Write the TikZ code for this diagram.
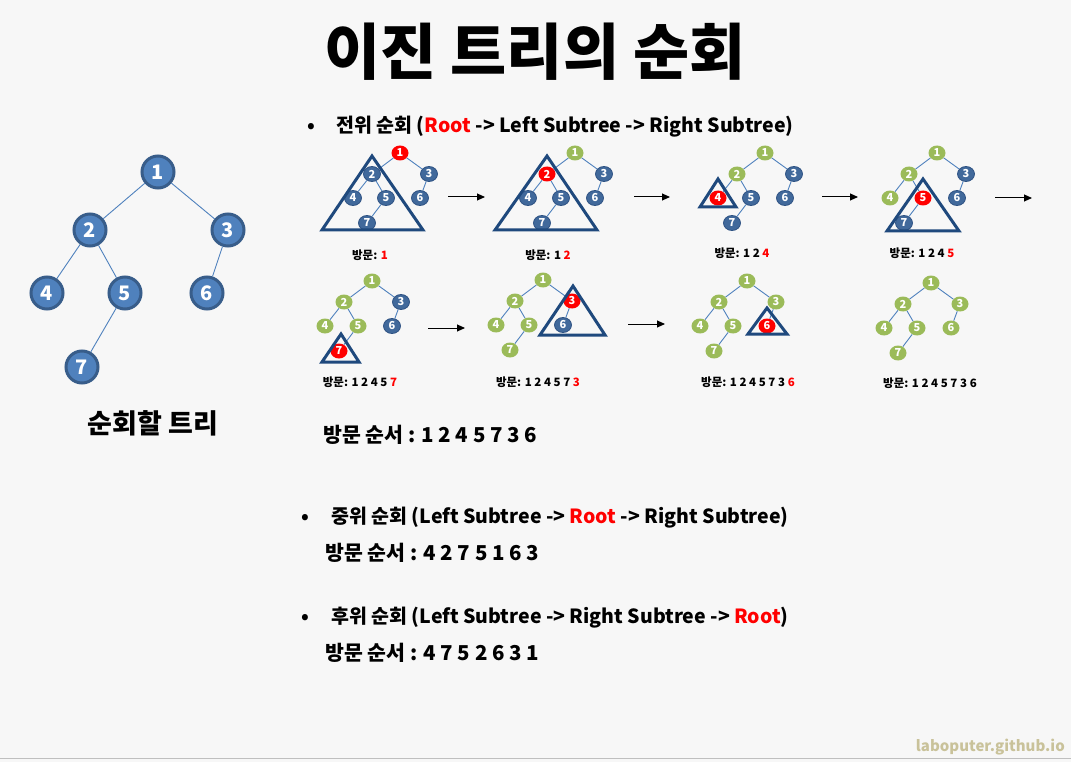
\documentclass[tikz,border=0pt]{standalone}
\usepackage{fontspec}
\setmainfont{Noto Sans CJK KR}
\usetikzlibrary{shapes.geometric,arrows.meta}
\definecolor{bgc}{HTML}{F7F7F7}
\definecolor{bigfill}{HTML}{4F81BD}
\definecolor{bigdraw}{HTML}{385D8A}
\definecolor{sblue}{HTML}{41699B}
\definecolor{sbluedk}{HTML}{2E5283}
\definecolor{sgreen}{HTML}{9BBB59}
\definecolor{sred}{HTML}{FF0000}
\definecolor{tric}{HTML}{1F497D}
\definecolor{edgec}{HTML}{4F81BD}
\definecolor{wmc}{HTML}{C9C29A}
\tikzset{
  bign/.style={circle,fill=bigfill,draw=bigdraw,line width=3pt,minimum size=32pt,inner sep=0pt,text=white,font=\bfseries\fontsize{20}{20}\selectfont},
  bigedge/.style={draw=edgec,line width=0.9pt},
  sn/.style={ellipse,minimum width=17pt,minimum height=15pt,inner sep=0pt,text=white,font=\bfseries\fontsize{11}{11}\selectfont},
  unv/.style={fill=sblue,draw=sbluedk,line width=0.8pt},
  vis/.style={fill=sgreen},
  cur/.style={fill=sred},
  sedge/.style={draw=edgec,line width=0.9pt},
  tri/.style={draw=tric,line width=3pt,line join=miter},
  slab/.style={anchor=base,inner sep=0pt,font=\bfseries\fontsize{11.5}{11.5}\selectfont},
  arr/.style={draw=black,line width=1pt,-{Triangle[length=8pt,width=7pt]}},
  head/.style={anchor=base west,inner sep=0pt,font=\bfseries\fontsize{19.5}{19.5}\selectfont},
  order/.style={anchor=base west,inner sep=0pt,font=\bfseries\fontsize{20.5}{20.5}\selectfont},
}
\newcommand\stree[9]{%
  \begin{scope}[shift={#2}]
    \node[sn,#3] (#1-1) at (0,0) {1};
    \node[sn,#4] (#1-2) at (-28,21) {2};
    \node[sn,#5] (#1-3) at (29,21) {3};
    \node[sn,#6] (#1-4) at (-47,45) {4};
    \node[sn,#7] (#1-5) at (-14,45) {5};
    \node[sn,#8] (#1-6) at (20,45) {6};
    \node[sn,#9] (#1-7) at (-33,70) {7};
    \draw[sedge] (#1-1) -- (#1-2);
    \draw[sedge] (#1-1) -- (#1-3);
    \draw[sedge] (#1-2) -- (#1-4);
    \draw[sedge] (#1-2) -- (#1-5);
    \draw[sedge] (#1-3) -- (#1-6);
    \draw[sedge] (#1-5) -- (#1-7);
  \end{scope}}
\begin{document}
\begin{tikzpicture}[x=1pt,y=-1pt]
\fill[bgc] (0,0) rectangle (1071,762);
\useasboundingbox (0,0) rectangle (1071,762);
\draw[black!25,line width=1pt] (0,758) -- (1071,758);
% title
\node[inner sep=0pt,font=\bfseries\fontsize{61}{63}\selectfont] (title) at (535,52) {이진 트리의 순회};
% big tree
\node[bign] (n1) at (158,172) {1};
\node[bign] (n2) at (90,230) {2};
\node[bign] (n3) at (228,230) {3};
\node[bign] (n4) at (47,293) {4};
\node[bign] (n5) at (125,293) {5};
\node[bign] (n6) at (207,293) {6};
\node[bign] (n7) at (82,367) {7};
\draw[bigedge] (n1) -- (n2);
\draw[bigedge] (n1) -- (n3);
\draw[bigedge] (n2) -- (n4);
\draw[bigedge] (n2) -- (n5);
\draw[bigedge] (n3) -- (n6);
\draw[bigedge] (n5) -- (n7);
\node[anchor=base,inner sep=0pt,font=\bfseries\fontsize{27}{27}\selectfont] (tlab) at (153,433) {순회할 트리};
% heading preorder
\node[head] (b1) at (307,133) {•};
\node[head] (h1) at (336,133) {전위 순회 ({\color{sred}Root} -> Left Subtree -> Right Subtree)};
% small trees row 1
\stree{t1}{(400,153)}{cur}{unv}{unv}{unv}{unv}{unv}{unv}
\draw[tri] (372,156) -- (322,230) -- (423,230) -- cycle;
\node[slab] (l1) at (370,259) {방문: {\color{sred}1}};
\stree{t2}{(575,153)}{vis}{cur}{unv}{unv}{unv}{unv}{unv}
\draw[tri] (547,156) -- (495,230) -- (597,230) -- cycle;
\node[slab] (l2) at (548,259) {방문: 1 {\color{sred}2}};
\stree{t3}{(765,153)}{vis}{vis}{unv}{cur}{unv}{unv}{unv}
\draw[tri] (718,179) -- (700,207) -- (736,207) -- cycle;
\node[slab] (l3) at (742,258) {방문: 1 2 {\color{sred}4}};
\stree{t4}{(937,153)}{vis}{vis}{unv}{vis}{cur}{unv}{unv}
\draw[tri] (923,179) -- (887,231) -- (959,231) -- cycle;
\node[slab] (l4) at (922,258) {방문: 1 2 4 {\color{sred}5}};
% row 2
\stree{t5}{(372,281)}{vis}{vis}{unv}{vis}{vis}{unv}{cur}
\draw[tri] (341,334) -- (322,362) -- (359,362) -- cycle;
\node[slab] (l5) at (360,386) {방문: 1 2 4 5 {\color{sred}7}};
\stree{t6}{(543,280)}{vis}{vis}{cur}{vis}{vis}{unv}{vis}
\draw[tri] (573,286) -- (540,335) -- (605,335) -- cycle;
\node[slab] (l6) at (538,386) {방문: 1 2 4 5 7 {\color{sred}3}};
\stree{t7}{(747,281)}{vis}{vis}{vis}{vis}{vis}{cur}{vis}
\draw[tri] (767,308) -- (748,334) -- (787,334) -- cycle;
\node[slab] (l7) at (748,386) {방문: 1 2 4 5 7 3 {\color{sred}6}};
\stree{t8}{(931,283)}{vis}{vis}{vis}{vis}{vis}{vis}{vis}
\node[slab] (l8) at (930,387) {방문: 1 2 4 5 7 3 6};
% arrows
\coordinate (a1s) at (448,197); \coordinate (a1e) at (485,197);
\coordinate (a2s) at (634,197); \coordinate (a2e) at (670,197);
\coordinate (a3s) at (822,197); \coordinate (a3e) at (858,197);
\coordinate (a4s) at (995,198); \coordinate (a4e) at (1032,198);
\coordinate (a5s) at (428,328); \coordinate (a5e) at (465,328);
\coordinate (a6s) at (628,324); \coordinate (a6e) at (665,324);
\draw[arr] (a1s) -- (a1e);
\draw[arr] (a2s) -- (a2e);
\draw[arr] (a3s) -- (a3e);
\draw[arr] (a4s) -- (a4e);
\draw[arr] (a5s) -- (a5e);
\draw[arr] (a6s) -- (a6e);
% orders
\node[order] (o1) at (323,442) {방문 순서 : 1 2 4 5 7 3 6};
\node[head] (b2) at (301,523) {•};
\node[head] (h2) at (331,523) {중위 순회 (Left Subtree -> {\color{sred}Root} -> Right Subtree)};
\node[order] (o2) at (325,560) {방문 순서 : 4 2 7 5 1 6 3};
\node[head] (b3) at (301,623) {•};
\node[head] (h3) at (331,623) {후위 순회 (Left Subtree -> Right Subtree -> {\color{sred}Root})};
\node[order] (o3) at (325,660) {방문 순서 : 4 7 5 2 6 3 1};
% watermark
\node[anchor=base east,inner sep=0pt,text=wmc,font=\bfseries\fontsize{15}{15}\selectfont] (wm) at (1065,751) {laboputer.github.io};
\end{tikzpicture}
\end{document}
